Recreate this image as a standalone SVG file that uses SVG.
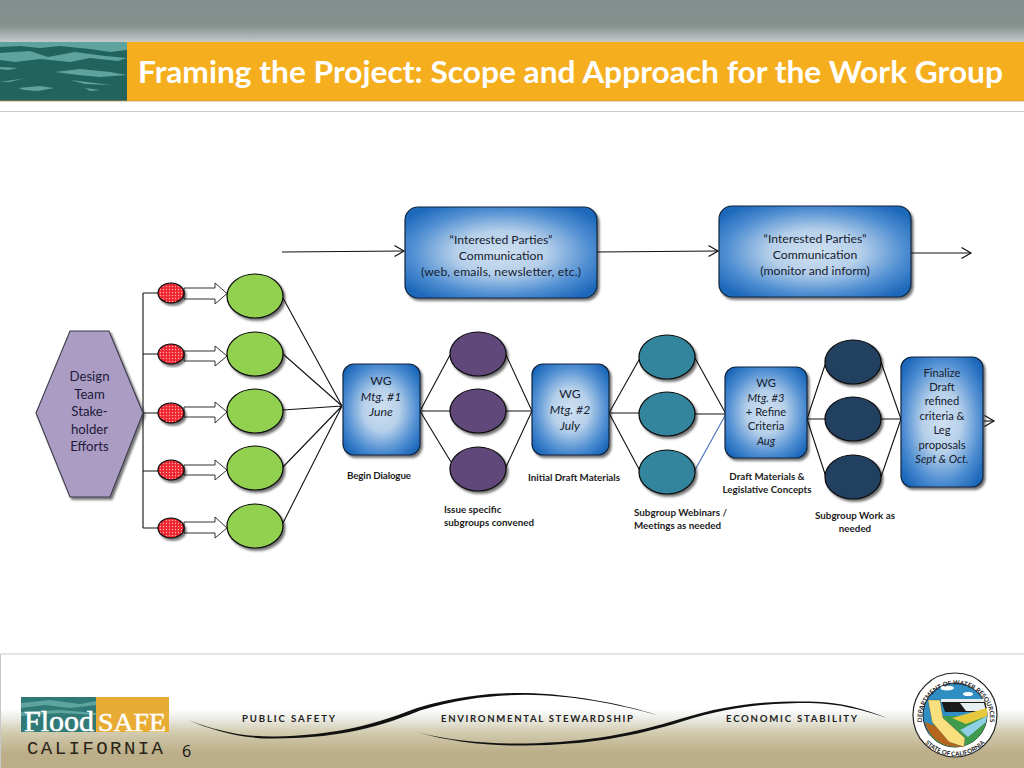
<svg xmlns="http://www.w3.org/2000/svg" width="1024" height="768" viewBox="0 0 1024 768">
<style>
text{font-family:"Lato","Open Sans","Liberation Sans",sans-serif;fill:#15202e}
.c{text-anchor:middle}
.t{font-size:12.2px}
.s{font-size:11.2px}
.i{font-style:italic}
.b{font-size:9.8px;font-weight:700;fill:#1c1c1c}
.h{font-size:13.2px;fill:#1d1a3a}
.f{font-size:9.6px;font-weight:700;fill:#222}
.ln{fill:none;stroke:#111;stroke-width:1.1}
.el{stroke:#0c0c0c;stroke-width:1.2;filter:url(#sh)}
.box{fill:url(#blue);stroke:#10253f;stroke-width:1.2;filter:url(#sh)}
.blk{fill:#fff;stroke:#333;stroke-width:1}
.w{fill:#5fa39e}
</style>
<defs>
<linearGradient id="top" x1="0" y1="0" x2="0" y2="1"><stop offset="0" stop-color="#818e8d"/><stop offset=".62" stop-color="#87928f"/><stop offset=".9" stop-color="#b4baba"/><stop offset="1" stop-color="#c6cac9"/></linearGradient>
<linearGradient id="foot" x1="0" y1="0" x2="0" y2="1"><stop offset="0" stop-color="#fff"/><stop offset=".15" stop-color="#efefeb"/><stop offset=".4" stop-color="#d2ccb0"/><stop offset=".75" stop-color="#bcae88"/><stop offset="1" stop-color="#bbae8a"/></linearGradient>
<radialGradient id="blue" cx=".5" cy=".5" r=".62"><stop offset="0" stop-color="#cfe0f1"/><stop offset=".38" stop-color="#b6d0ea"/><stop offset=".75" stop-color="#4f8ed2"/><stop offset="1" stop-color="#1e69bb"/></radialGradient>
<pattern id="dots" width="3" height="3" patternUnits="userSpaceOnUse"><rect width="3" height="3" fill="#ee2630"/><circle cx="1.5" cy="1.5" r=".65" fill="#ffb0b0"/></pattern>
<filter id="sh" x="-15%" y="-15%" width="135%" height="135%"><feDropShadow dx="2" dy="2.400" stdDeviation="1" flood-color="#000" flood-opacity=".55"/></filter>
<marker id="ah" markerWidth="12" markerHeight="14" refX="10.500" refY="6" orient="auto" markerUnits="userSpaceOnUse"><path d="M1 .5 10.500 6 1 11.500" fill="none" stroke="#111" stroke-width="1.200"/></marker>
<path id="sealTop" d="M923 727A34 34 0 1 1 989 727"/>
<path id="sealBot" d="M921 738A41 41 0 0 0 989 738"/>
</defs>

<g id="header">
<rect width="1024" height="42" fill="url(#top)"/>
<rect y="42" width="127" height="59" fill="#22635e"/>
<path class="w" d="M0 42H127V50L110 52 90 49 60 46 40 48 20 46 0 47Z"/>
<path class="w" d="M0 53 30 51 48 57 75 52 105 56 127 58 118 61 90 58 70 62 40 59 15 62 0 60Z"/>
<path class="w" d="M55 72 80 69 110 72 127 75 100 77 78 75ZM0 67 18 68 8 70 0 69ZM70 80 95 83 127 87 110 85 85 84ZM20 79 25 78 10 82 0 82ZM18 88 40 86 54 88 38 91 24 90ZM85 88 100 90 90 91Z"/>
<rect x="127" y="42" width="897" height="59" fill="#f5ae1e"/>
<path d="M0 101H1024" stroke="#c09a50" stroke-width=".8"/>
<path d="M0 111.500H1024" stroke="#c8c8c8" stroke-width="1"/>
<text x="138" y="83" textLength="865" lengthAdjust="spacingAndGlyphs" style="font-size:31px;font-weight:700;fill:#fff">Framing the Project: Scope and Approach for the Work Group</text>
</g>

<g id="footer">
<rect y="708" width="1024" height="60" fill="url(#foot)"/>
<path d="M.5 768V654H1024" fill="none" stroke="#c8c8c8" stroke-width="1"/>
<path d="M188 720C215 730 240 737 275 736.500 330 735 365 728 417 708 460 695 500 692.500 525 693 570 694 620 703 657 715 618 704 570 695 525 694.800 495 695 460 698 420 710.500 370 731 330 738 275 738.500 240 739 212 730 188 720Z" fill="#111"/>
<path d="M417 732C450 741 490 744 525 743.500 590 742 635 733 680 719 730 703 770 701 810 701.500 840 702 865 709 887 718 862 710 840 703.500 810 703 770 703 732 706 682 721.500 635 736 590 745 525 745.500 490 746 450 742 417 732Z" fill="#111"/>
<text class="f" x="242" y="722" textLength="93">PUBLIC SAFETY</text>
<text class="f" x="441" y="722" textLength="192">ENVIRONMENTAL STEWARDSHIP</text>
<text class="f" x="726" y="722" textLength="131">ECONOMIC STABILITY</text>
</g>

<g id="logo">
<rect x="21" y="697" width="75" height="35" fill="#2f7a76"/>
<path class="w" d="M21 703 50 700 80 704 96 701V705L70 708 45 705 21 708ZM21 712 60 710 96 713V715L60 713 21 716Z"/>
<rect x="96" y="697" width="73" height="35" fill="#e8ac35"/>
<text x="24" y="731" textLength="70" lengthAdjust="spacingAndGlyphs" style="font-family:'Liberation Serif',serif;font-size:29px;fill:#fff;stroke:#fff;stroke-width:.5">Flood</text>
<text x="98" y="731" textLength="68" lengthAdjust="spacingAndGlyphs" style="font-family:'Liberation Serif',serif;font-size:25px;fill:#fff;stroke:#fff;stroke-width:.4">SAFE</text>
<text x="27" y="754" textLength="136" style="font-family:'Liberation Mono',monospace;font-size:19px;fill:#2a2418">CALIFORNIA</text>
<text x="182" y="757" style="font-family:'Open Sans',sans-serif;font-size:16px;fill:#111">6</text>
</g>

<g id="seal">
<circle cx="955" cy="715" r="42" fill="#fff" stroke="#222" stroke-width="1.200"/>
<circle cx="955" cy="715" r="32" fill="#2f8fc4" stroke="#222" stroke-width="1"/>
<path d="M930 735A32 32 0 0 0 985 726L987 716H935Z" fill="#3f9a4e"/>
<path d="M941 700H985L987 712H945Z" fill="#1a1a1a"/>
<path d="M941 699H984L985 702H941ZM960 703 984 703 986 711 966 711Z" fill="#e6eef2"/>
<path d="M952 718 987 708 987 716 966 724Z" fill="#e5c83c"/>
<path d="M960 730 987 716 986 722 968 737Z" fill="#8fd0e6"/>
<path d="M925 722A32 32 0 0 0 949 746L964 747 945 730Z" fill="#b5651d"/>
<path d="M928 700H940L943 718 965 738 964 747 949 742 932 722Z" fill="#fadf7f" stroke="#333" stroke-width=".3"/>
<ellipse cx="947" cy="688" rx="7" ry="2.500" fill="#fff"/><ellipse cx="968" cy="694" rx="5" ry="2" fill="#fff"/>
<text style="font-size:6.300px;font-weight:700;fill:#222" text-anchor="middle"><textPath href="#sealTop" startOffset="50%">DEPARTMENT OF WATER RESOURCES</textPath></text>
<text style="font-size:6.300px;font-weight:700;fill:#222" text-anchor="middle"><textPath href="#sealBot" startOffset="50%">STATE OF CALIFORNIA</textPath></text>
</g>

<g id="connectors">
<path class="ln" d="M143 293V528M143 293H158M143 354H158M143 413H158M143 471H158M143 528H158"/>
<path class="ln" d="M283 298 342 406M283 354 342 406M283 410 342 406M283 467 342 406M283 523 342 406"/>
<path class="ln" d="M420 411 450 355M420 411H450M420 411 451 462M506 355 532 411M506 411H532M506 467 532 411"/>
<path class="ln" d="M609 413 640 358M609 413H639M609 413 640 471M695 358 726 414M695 414H726"/>
<path d="M695 470 726 414" fill="none" stroke="#3f6fb5" stroke-width="1.100"/>
<path class="ln" d="M807 419 826 362M807 419H825M807 419 826 477M881 362 901 419M881 419H901M881 477 901 419"/>
<path class="ln" marker-end="url(#ah)" d="M282 252 404 251"/>
<path class="ln" marker-end="url(#ah)" d="M597 252 718 251"/>
<path class="ln" marker-end="url(#ah)" d="M911 253 971 253"/>
<path class="ln" marker-end="url(#ah)" d="M984 421H994"/>
<path class="blk" d="M184 288H215V283L227 293.500 215 304V299H184Z"/>
<path class="blk" d="M184 351H215V346L227 356 215 366V361H184Z"/>
<path class="blk" d="M184 407H215V402L227 412 215 423V417H184Z"/>
<path class="blk" d="M184 465H215V460L227 470 215 480V475H184Z"/>
<path class="blk" d="M184 522H215V517L227 528 215 538V533H184Z"/>
</g>

<g id="hex"><path d="M70 331H109L143 413 110 497H70L36 413Z" fill="#ab9cc4" stroke="#3b3b4a" stroke-width="1.100" filter="url(#sh)"/>
<text class="h c" x="89.500" y="381">Design</text><text class="h c" x="89.500" y="399">Team</text><text class="h c" x="89.500" y="416">Stake-</text><text class="h c" x="89.500" y="434">holder</text><text class="h c" x="89.500" y="451">Efforts</text></g>

<g id="red" fill="url(#dots)">
<ellipse id="r1" class="el" cx="171" cy="293" rx="13" ry="10"/><ellipse id="r2" class="el" cx="171" cy="354" rx="13" ry="10"/><ellipse id="r3" class="el" cx="171" cy="413" rx="13" ry="10"/><ellipse id="r4" class="el" cx="171" cy="470" rx="13" ry="10"/><ellipse id="r5" class="el" cx="171" cy="528" rx="13" ry="10"/>
</g>
<g id="green" fill="#92d050">
<ellipse id="g1" class="el" cx="255" cy="296" rx="28" ry="22"/><ellipse id="g2" class="el" cx="255" cy="354" rx="28" ry="22"/><ellipse id="g3" class="el" cx="255" cy="411" rx="28" ry="22"/><ellipse id="g4" class="el" cx="255" cy="468" rx="28" ry="22"/><ellipse id="g5" class="el" cx="255" cy="526" rx="28" ry="22"/>
</g>
<g id="purple" fill="#60497a">
<ellipse id="p1" class="el" cx="478" cy="354" rx="28" ry="22"/><ellipse id="p2" class="el" cx="478" cy="411" rx="28" ry="22"/><ellipse id="p3" class="el" cx="478" cy="469" rx="28" ry="22"/>
</g>
<g id="teal" fill="#31859c">
<ellipse id="t1" class="el" cx="667" cy="357" rx="28" ry="22"/><ellipse id="t2" class="el" cx="667" cy="414" rx="28" ry="22"/><ellipse id="t3" class="el" cx="667" cy="472" rx="28" ry="22"/>
</g>
<g id="navy" fill="#243f60">
<ellipse id="n1" class="el" cx="853" cy="362" rx="28" ry="22"/><ellipse id="n2" class="el" cx="853" cy="419" rx="28" ry="22"/><ellipse id="n3" class="el" cx="853" cy="477" rx="28" ry="22"/>
</g>

<g id="ip1"><rect class="box" x="405" y="207" width="192" height="91" rx="13"/>
<text class="t c" x="501" y="244">“Interested Parties”</text><text class="t c" x="501" y="260">Communication</text><text class="t c" x="501" y="276" textLength="160">(web, emails, newsletter, etc.)</text></g>
<g id="ip2"><rect class="box" x="719" y="206" width="192" height="91" rx="13"/>
<text class="t c" x="815" y="243">“Interested Parties”</text><text class="t c" x="815" y="259">Communication</text><text class="t c" x="815" y="275">(monitor and inform)</text></g>

<g id="wg1"><rect class="box" x="343" y="364" width="77" height="91" rx="11"/>
<text class="t c" x="381" y="385">WG</text><text class="t c i" x="381" y="401">Mtg. #1</text><text class="t c i" x="381" y="416">June</text></g>
<g id="wg2"><rect class="box" x="532" y="364" width="77" height="91" rx="11"/>
<text class="t c" x="570" y="398">WG</text><text class="t c i" x="570" y="414">Mtg. #2</text><text class="t c i" x="570" y="430">July</text></g>
<g id="wg3"><rect class="box" x="725" y="367" width="82" height="91" rx="11"/>
<text class="s c" x="766" y="387">WG</text><text class="s c i" x="766" y="402">Mtg. #3</text><text class="s c" x="766" y="416">+ Refine</text><text class="s c" x="766" y="430">Criteria</text><text class="s c i" x="766" y="445">Aug</text></g>
<g id="fin"><rect class="box" x="901" y="357" width="82" height="130" rx="11"/>
<text class="s c" x="942" y="377">Finalize</text><text class="s c" x="942" y="391">Draft</text><text class="s c" x="942" y="405">refined</text><text class="s c" x="942" y="420">criteria &amp;</text><text class="s c" x="942" y="434">Leg</text><text class="s c" x="942" y="449">proposals</text><text class="s c i" x="942" y="463">Sept &amp; Oct.</text></g>

<g id="labels">
<text class="b" x="347" y="479" textLength="64">Begin Dialogue</text>
<text class="b" x="528" y="481" textLength="92">Initial Draft Materials</text>
<text class="b" x="444" y="513">Issue specific</text><text class="b" x="444" y="526" textLength="90">subgroups convened</text>
<text class="b" x="634" y="516" textLength="93">Subgroup Webinars /</text><text class="b" x="634" y="529" textLength="87">Meetings as needed</text>
<text class="b c" x="767" y="480">Draft Materials &amp;</text><text class="b c" x="767" y="493">Legislative Concepts</text>
<text class="b c" x="855" y="519">Subgroup Work as</text><text class="b c" x="855" y="532">needed</text>
</g>
</svg>
